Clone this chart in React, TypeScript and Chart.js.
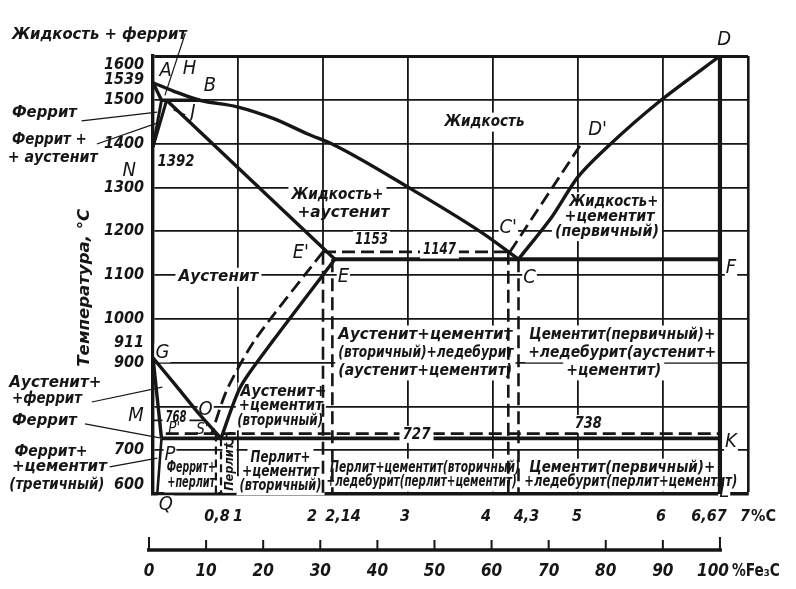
import React, { useEffect, useRef } from 'react';
import { Chart, registerables } from 'chart.js';

Chart.register(...registerables);

type P = [number, number];

const INK = '#161616';
const FAM = '"DejaVu Sans Condensed", "DejaVu Sans", sans-serif';

// ---------- axes ----------
const carbonMin = 0;
const carbonMax = 7;
const tempMin = 600;
const tempMax = 1600;
const tempTickValues = [600, 700, 800, 900, 1000, 1100, 1200, 1300, 1400, 1500, 1600];
const tempTickHidden = [800];
const extraTempValues = [1539, 911];
const extraTempTexts = ['1539', '911'];
const carbonTickValues = [0.8, 1, 2, 2.14, 3, 4, 4.3, 5, 6, 6.67, 7];
const carbonTickTexts = ['0,8', '1', '2', '2,14', '3', '4', '4,3', '5', '6', '6,67', '7'];
const fe3cTickValues = [0, 10, 20, 30, 40, 50, 60, 70, 80, 90, 100];
const carbonOfCementite = 6.67;

// ---------- phase boundary lines (%C, °C) ----------
const liquidusABC: P[] = [[0, 1539], [0.24, 1520], [0.55, 1499], [0.99, 1484], [1.42, 1457], [1.82, 1422], [2.13, 1397], [3.04, 1296], [3.89, 1194], [4.3, 1136]];
const liquidusCD: P[] = [[4.3, 1136], [4.69, 1232], [5.0, 1324], [5.37, 1397], [5.95, 1495], [6.67, 1600]];
const solidusAH: P[] = [[0, 1539], [0.1, 1499]];
const peritecticHJB: P[] = [[0.1, 1499], [0.55, 1499]];
const lineHN: P[] = [[0.1, 1499], [0, 1392]];
const lineJN: P[] = [[0.16, 1499], [0, 1392]];
const solidusJE: P[] = [[0.16, 1499], [2.14, 1136]];
const eutecticECF: P[] = [[2.14, 1136], [6.67, 1136]];
const lineES: P[] = [[2.14, 1136], [1.42, 952], [1.03, 845], [0.8, 727]];
const lineGS: P[] = [[0, 911], [0.28, 845], [0.55, 781], [0.8, 727]];
const lineGP: P[] = [[0, 911], [0.1, 727]];
const linePQ: P[] = [[0.1, 727], [0.05, 600]];
const eutectoidPSK: P[] = [[0.1, 727], [6.67, 727]];
const cementiteDL: P[] = [[6.67, 1600], [6.67, 600]];
const curieMO: P[] = [[0, 768], [0.62, 768]];
const gridTwoUpper: P[] = [[2, 1600], [2, 1153]];
// stable (graphite) system, dashed
const dashE1C1: P[] = [[2.0, 1153], [4.2, 1153]];
const dashC1D1: P[] = [[4.2, 1153], [5.04, 1400]];
const dashE1S1: P[] = [[2.0, 1153], [1.2, 952], [0.87, 838], [0.69, 738]];
const dashP1K1: P[] = [[0.15, 738], [6.67, 738]];
const dashVertE1: P[] = [[2.0, 1153], [2.0, 600]];
const dashVertE: P[] = [[2.11, 1136], [2.11, 600]];
const dashVertC1: P[] = [[4.18, 1153], [4.18, 600]];
const dashVertC: P[] = [[4.3, 1136], [4.3, 600]];
const dashVertS1: P[] = [[0.74, 738], [0.74, 600]];
const dashVertS: P[] = [[0.8, 727], [0.8, 600]];

// ---------- text annotations: text, %C, °C, fitted width (px) ----------
type W = [string, number, number, number];
type L = [string, number, number];
const pointLabels: L[] = [
  ['A', 0.15, 1566], ['H', 0.43, 1570], ['B', 0.67, 1532], ['J', 0.47, 1470], ['N', -0.28, 1337],
  ['G', 0.11, 922], ['M', -0.2, 778], ['O', 0.62, 792], ['P', 0.2, 689], ['S', 0.9, 722],
  ['E\'', 1.74, 1150], ['E', 2.24, 1095], ['C\'', 4.18, 1207], ['C', 4.43, 1093], ['F', 6.8, 1116],
  ['D', 6.72, 1637], ['D\'', 5.23, 1431], ['K', 6.8, 719], ['L', 6.72, 604], ['Q', 0.15, 575],
];
const smallPointLabels: L[] = [['P\'', 0.25, 748], ['S\'', 0.58, 746]];
const numberLabels: W[] = [['1392', 0.27, 1358, 37], ['1153', 2.57, 1180, 33], ['738', 5.12, 760, 27]];
const numberLabelsOnLine: W[] = [['1147', 3.37, 1157, 33], ['727', 3.1, 736, 28], ['768', 0.27, 774, 21]];
const regionCenter: W[] = [
  ['Жидкость', 3.9, 1449, 80],
  ['Жидкость+', 2.17, 1283, 92], ['+аустенит', 2.24, 1242, 92],
  ['Жидкость+', 5.42, 1267, 89], ['+цементит', 5.37, 1233, 90], ['(первичный)', 5.34, 1199, 104],
  ['Аустенит', 0.77, 1095, 80],
  ['Цементит(первичный)+', 5.52, 963, 186], ['+ледебурит(аустенит+', 5.52, 922, 188], ['+цементит)', 5.42, 881, 95],
  ['Перлит+', 1.5, 682, 60], ['+цементит', 1.5, 650, 77], ['(вторичный)', 1.5, 619, 82],
  ['Перлит+цементит(вторичный)', 3.2, 659, 190], ['+ледебурит(перлит+цементит)', 3.16, 627, 190],
  ['Цементит(первичный)+', 5.52, 659, 186], ['+ледебурит(перлит+цементит)', 5.62, 627, 213],
  ['Феррит+', 0.45, 659, 49], ['+перлит', 0.45, 625, 48],
];
const regionLeft: W[] = [
  ['Аустенит+цементит', 2.18, 963, 174], ['(вторичный)+ледебурит', 2.18, 922, 175], ['(аустенит+цементит)', 2.18, 881, 174],
  ['Аустенит+', 1.03, 833, 86], ['+цементит', 1.01, 801, 84], ['(вторичный)', 0.99, 767, 86],
];
const sideLabels: W[] = [
  ['Жидкость + феррит', -1.66, 1648, 175],
  ['Феррит', -1.66, 1470, 65],
  ['Феррит +', -1.66, 1408, 75], ['+ аустенит', -1.71, 1367, 90],
  ['Аустенит+', -1.69, 853, 92], ['+феррит', -1.66, 817, 70],
  ['Феррит', -1.66, 767, 65],
  ['Феррит+', -1.63, 696, 73], ['+цементит', -1.66, 662, 95], ['(третичный)', -1.69, 620, 95],
];
const verticalLabel: W = ['Перлит', 0.9, 662, 48];
const axisTitle: W = ['Температура, °C', -0.8, 1071, 158];
// leader lines [x1, T1, x2, T2]
const leaders: [number, number, number, number][] = [
  [0.38, 1652, 0.14, 1510],
  [-0.84, 1452, 0.05, 1472],
  [-0.66, 1399, 0.08, 1449],
  [-0.72, 810, 0.11, 844],
  [-0.8, 760, 0.08, 728],
  [-0.51, 662, 0.05, 682],
  [0.24, 1477, 0.38, 1466],
];

const font = (size: number, bold = true, italic = true) =>
  `${italic ? 'italic ' : ''}${bold ? 'bold ' : ''}${size}px ${FAM}`;

const REGION_FONT = font(16);
const SIDE_FONT = font(16);
const NUM_FONT = font(16);
const POINT_FONT = font(20, false);
const SMALL_POINT_FONT = font(15, false);

function mk(pts: P[], w: number, dash: number[] = [], mode: string = 'straight') {
  return {
    data: pts.map(([x, y]) => ({ x, y })),
    showLine: true,
    borderColor: INK,
    backgroundColor: INK,
    borderWidth: w,
    borderDash: dash,
    pointRadius: 0,
    tension: mode === 'smooth' ? 0.25 : 0,
    cubicInterpolationMode: mode === 'mono' ? 'monotone' : 'default',
    fill: false,
    borderCapStyle: 'butt',
    borderJoinStyle: 'round',
  };
}

function boxFor(ctx: CanvasRenderingContext2D, px: number, py: number, w: number, h: number, align: string, pad: number) {
  const x0 = align === 'center' ? px - w / 2 : align === 'right' ? px - w : px;
  ctx.fillStyle = '#fff';
  ctx.fillRect(x0 - pad, py - h / 2 - pad / 2, w + pad * 2, h + pad);
}

function drawFit(ctx: CanvasRenderingContext2D, s: string, px: number, py: number, f: string, align: CanvasTextAlign, width?: number) {
  ctx.save();
  ctx.font = f;
  ctx.textAlign = align;
  ctx.textBaseline = 'middle';
  ctx.fillStyle = INK;
  const w = ctx.measureText(s).width;
  const sx = width ? width / w : 1;
  ctx.translate(px, py);
  ctx.scale(sx, 1);
  ctx.fillText(s, 0, 0);
  ctx.restore();
}

const annotate = {
  id: 'annotate',
  beforeDatasetsDraw(chart: any) {
    const { ctx, scales } = chart;
    const X = (v: number) => scales.x.getPixelForValue(v);
    const Y = (v: number) => scales.y.getPixelForValue(v);
    ctx.save();
    for (const [, x, t, w] of regionCenter) boxFor(ctx, X(x), Y(t), w, 16, 'center', 3);
    for (const [, x, t, w] of regionLeft) boxFor(ctx, X(x), Y(t), w, 16, 'left', 3);
    for (const [, x, t, w] of numberLabels) boxFor(ctx, X(x), Y(t), w, 16, 'center', 2);
    ctx.font = POINT_FONT;
    for (const [s, x, t] of pointLabels) boxFor(ctx, X(x), Y(t), ctx.measureText(s).width, 18, 'center', 1);
    {
      const [, x, t, w] = verticalLabel;
      ctx.fillStyle = '#fff';
      ctx.fillRect(X(x) - 7, Y(t) - w / 2 - 2, 14, w + 4);
    }
    ctx.restore();
  },
  afterDatasetsDraw(chart: any) {
    const { ctx, scales, chartArea } = chart;
    const X = (v: number) => scales.x.getPixelForValue(v);
    const Y = (v: number) => scales.y.getPixelForValue(v);
    ctx.save();
    for (const [, x, t, w] of numberLabelsOnLine) boxFor(ctx, X(x), Y(t), w, 14, 'center', 3);
    for (const [s, x, t, w] of numberLabelsOnLine) drawFit(ctx, s, X(x), Y(t), NUM_FONT, 'center', w);
    for (const [s, x, t, w] of numberLabels) drawFit(ctx, s, X(x), Y(t), NUM_FONT, 'center', w);
    for (const [s, x, t, w] of regionCenter) drawFit(ctx, s, X(x), Y(t), REGION_FONT, 'center', w);
    for (const [s, x, t, w] of regionLeft) drawFit(ctx, s, X(x), Y(t), REGION_FONT, 'left', w);
    for (const [s, x, t, w] of sideLabels) drawFit(ctx, s, X(x), Y(t), SIDE_FONT, 'left', w);
    for (const [s, x, t] of pointLabels) drawFit(ctx, s, X(x), Y(t), POINT_FONT, 'center');
    for (const [s, x, t] of smallPointLabels) drawFit(ctx, s, X(x), Y(t), SMALL_POINT_FONT, 'center');
    {
      const [s, x, t, w] = verticalLabel;
      ctx.save();
      ctx.translate(X(x), Y(t));
      ctx.rotate(-Math.PI / 2);
      drawFit(ctx, s, 0, 0, font(13), 'center', w);
      ctx.restore();
    }
    {
      const [s, x, t, w] = axisTitle;
      ctx.save();
      ctx.translate(X(x), Y(t));
      ctx.rotate(-Math.PI / 2);
      drawFit(ctx, s, 0, 0, font(16), 'center', w);
      ctx.restore();
    }
    // extra temperature labels on the axis
    extraTempValues.forEach((v, i) => {
      const shift = v > 1200 ? -3 : -15;
      drawFit(ctx, extraTempTexts[i], chartArea.left - 9, Y(v) + shift, NUM_FONT, 'right');
    });
    // leader lines
    ctx.strokeStyle = INK;
    ctx.lineWidth = 1.2;
    for (const [x1, t1, x2, t2] of leaders) {
      ctx.beginPath();
      ctx.moveTo(X(x1), Y(t1));
      ctx.lineTo(X(x2), Y(t2));
      ctx.stroke();
    }
    // carbon tick labels
    const labelY = chartArea.bottom + 23;
    const shifts = [-4, 0, -11, 8, -3, -7, 8, -1, -2, -11, -8];
    carbonTickValues.forEach((v, i) => {
      const txt = carbonTickTexts[i];
      if (v === carbonMax) {
        drawFit(ctx, txt, X(v) + shifts[i], labelY, NUM_FONT, 'left');
        ctx.font = NUM_FONT;
        const w = ctx.measureText(txt).width;
        drawFit(ctx, '%C', X(v) + shifts[i] + w + 1, labelY, font(16, true, false), 'left');
      } else {
        drawFit(ctx, txt, X(v) + shifts[i], labelY, NUM_FONT, 'center');
      }
    });
    // Fe3C scale
    const axY = chartArea.bottom + 56;
    const fx = (p: number) => X((p / 100) * carbonOfCementite) - 4 * (1 - p / 100);
    ctx.lineWidth = 3.5;
    ctx.beginPath();
    ctx.moveTo(fx(0) - 2, axY);
    ctx.lineTo(fx(100) + 2, axY);
    ctx.stroke();
    ctx.lineWidth = 2;
    fe3cTickValues.forEach((p) => {
      const len = p === 0 || p === 100 ? 13 : 10;
      ctx.beginPath();
      ctx.moveTo(fx(p), axY);
      ctx.lineTo(fx(p), axY - len);
      ctx.stroke();
      const ly = axY + 22;
      if (p === 100) {
        drawFit(ctx, '100', fx(p) - 7, ly, font(17), 'center');
        drawFit(ctx, '%Fe\u2083C', fx(p) + 12, ly, font(17, true, false), 'left', 48);
      } else {
        drawFit(ctx, String(p), fx(p), ly, font(17), 'center');
      }
    });
    ctx.restore();
  },
};

export default function App() {
  const ref = useRef<HTMLCanvasElement | null>(null);
  useEffect(() => {
    document.body.style.margin = '0';
    const canvas = ref.current;
    if (!canvas) return;
    const PH = 3.4;
    const DASH = [13, 6];
    const datasets: any[] = [
      mk(liquidusABC, PH, [], 'mono'),
      mk(liquidusCD, PH, [], 'smooth'),
      mk(solidusAH, PH),
      mk(peritecticHJB, PH),
      mk(lineHN, 3),
      mk(lineJN, 3),
      mk(solidusJE, PH),
      mk(eutecticECF, 3.8),
      mk(lineES, PH, [], 'smooth'),
      mk(lineGS, PH, [], 'smooth'),
      mk(lineGP, PH),
      mk(linePQ, 2.6),
      mk(eutectoidPSK, 3.8),
      mk(cementiteDL, 4.2),
      mk(curieMO, 1.6),
      mk(gridTwoUpper, 1.8),
      mk(dashE1C1, 2.8, DASH),
      mk(dashC1D1, 2.8, DASH),
      mk(dashE1S1, 2.8, DASH, 'smooth'),
      mk(dashP1K1, 2.8, DASH),
      mk(dashVertE1, 2.6, DASH),
      mk(dashVertE, 2.6, DASH),
      mk(dashVertC1, 2.6, DASH),
      mk(dashVertC, 2.6, DASH),
      mk(dashVertS1, 2.2, [8, 5]),
      mk(dashVertS, 2.2, [8, 5]),
    ];
    const chart = new Chart(canvas, {
      type: 'scatter',
      data: { datasets },
      options: {
        animation: false,
        responsive: false,
        events: [],
        layout: { padding: { left: 85, right: 48, top: 56, bottom: 0 } },
        plugins: { legend: { display: false }, tooltip: { enabled: false } },
        scales: {
          x: {
            type: 'linear',
            min: carbonMin,
            max: carbonMax,
            ticks: { display: false, stepSize: 1 },
            grid: {
              drawTicks: false,
              color: (c: any) => (c.tick && (c.tick.value === 0 || c.tick.value === 2) ? 'rgba(0,0,0,0)' : INK),
              lineWidth: (c: any) => (c.tick && c.tick.value === carbonMax ? 2.6 : 1.8),
            },
            border: { display: true, width: 3.4, color: INK },
            afterFit: (s: any) => { s.height = 95; },
          },
          y: {
            type: 'linear',
            min: tempMin,
            max: tempMax,
            afterBuildTicks: (s: any) => { s.ticks = tempTickValues.map((v) => ({ value: v })); },
            ticks: {
              color: INK,
              padding: 9,
              font: { family: FAM, size: 16, style: 'italic', weight: 'bold', lineHeight: 1.1 },
              callback: (v: any) => {
                const n = Number(v);
                if (tempTickHidden.includes(n)) return '';
                if (n === tempMax) return ['', String(n)];
                if (n === tempMin) return [String(n), ''];
                return String(n);
              },
            },
            grid: {
              drawTicks: false,
              color: (c: any) => (c.tick && c.tick.value === tempMin ? 'rgba(0,0,0,0)' : INK),
              lineWidth: (c: any) => (c.tick && c.tick.value === tempMax ? 3 : 1.8),
            },
            border: { display: true, width: 3.4, color: INK },
            title: { display: false },
            afterFit: (s: any) => { s.width = 68; },
          },
        },
      },
      plugins: [annotate],
    } as any);
    return () => chart.destroy();
  }, []);
  return (
    <div style={{ width: 796, height: 589, background: '#fff' }}>
      <canvas ref={ref} width={796} height={589} />
    </div>
  );
}
